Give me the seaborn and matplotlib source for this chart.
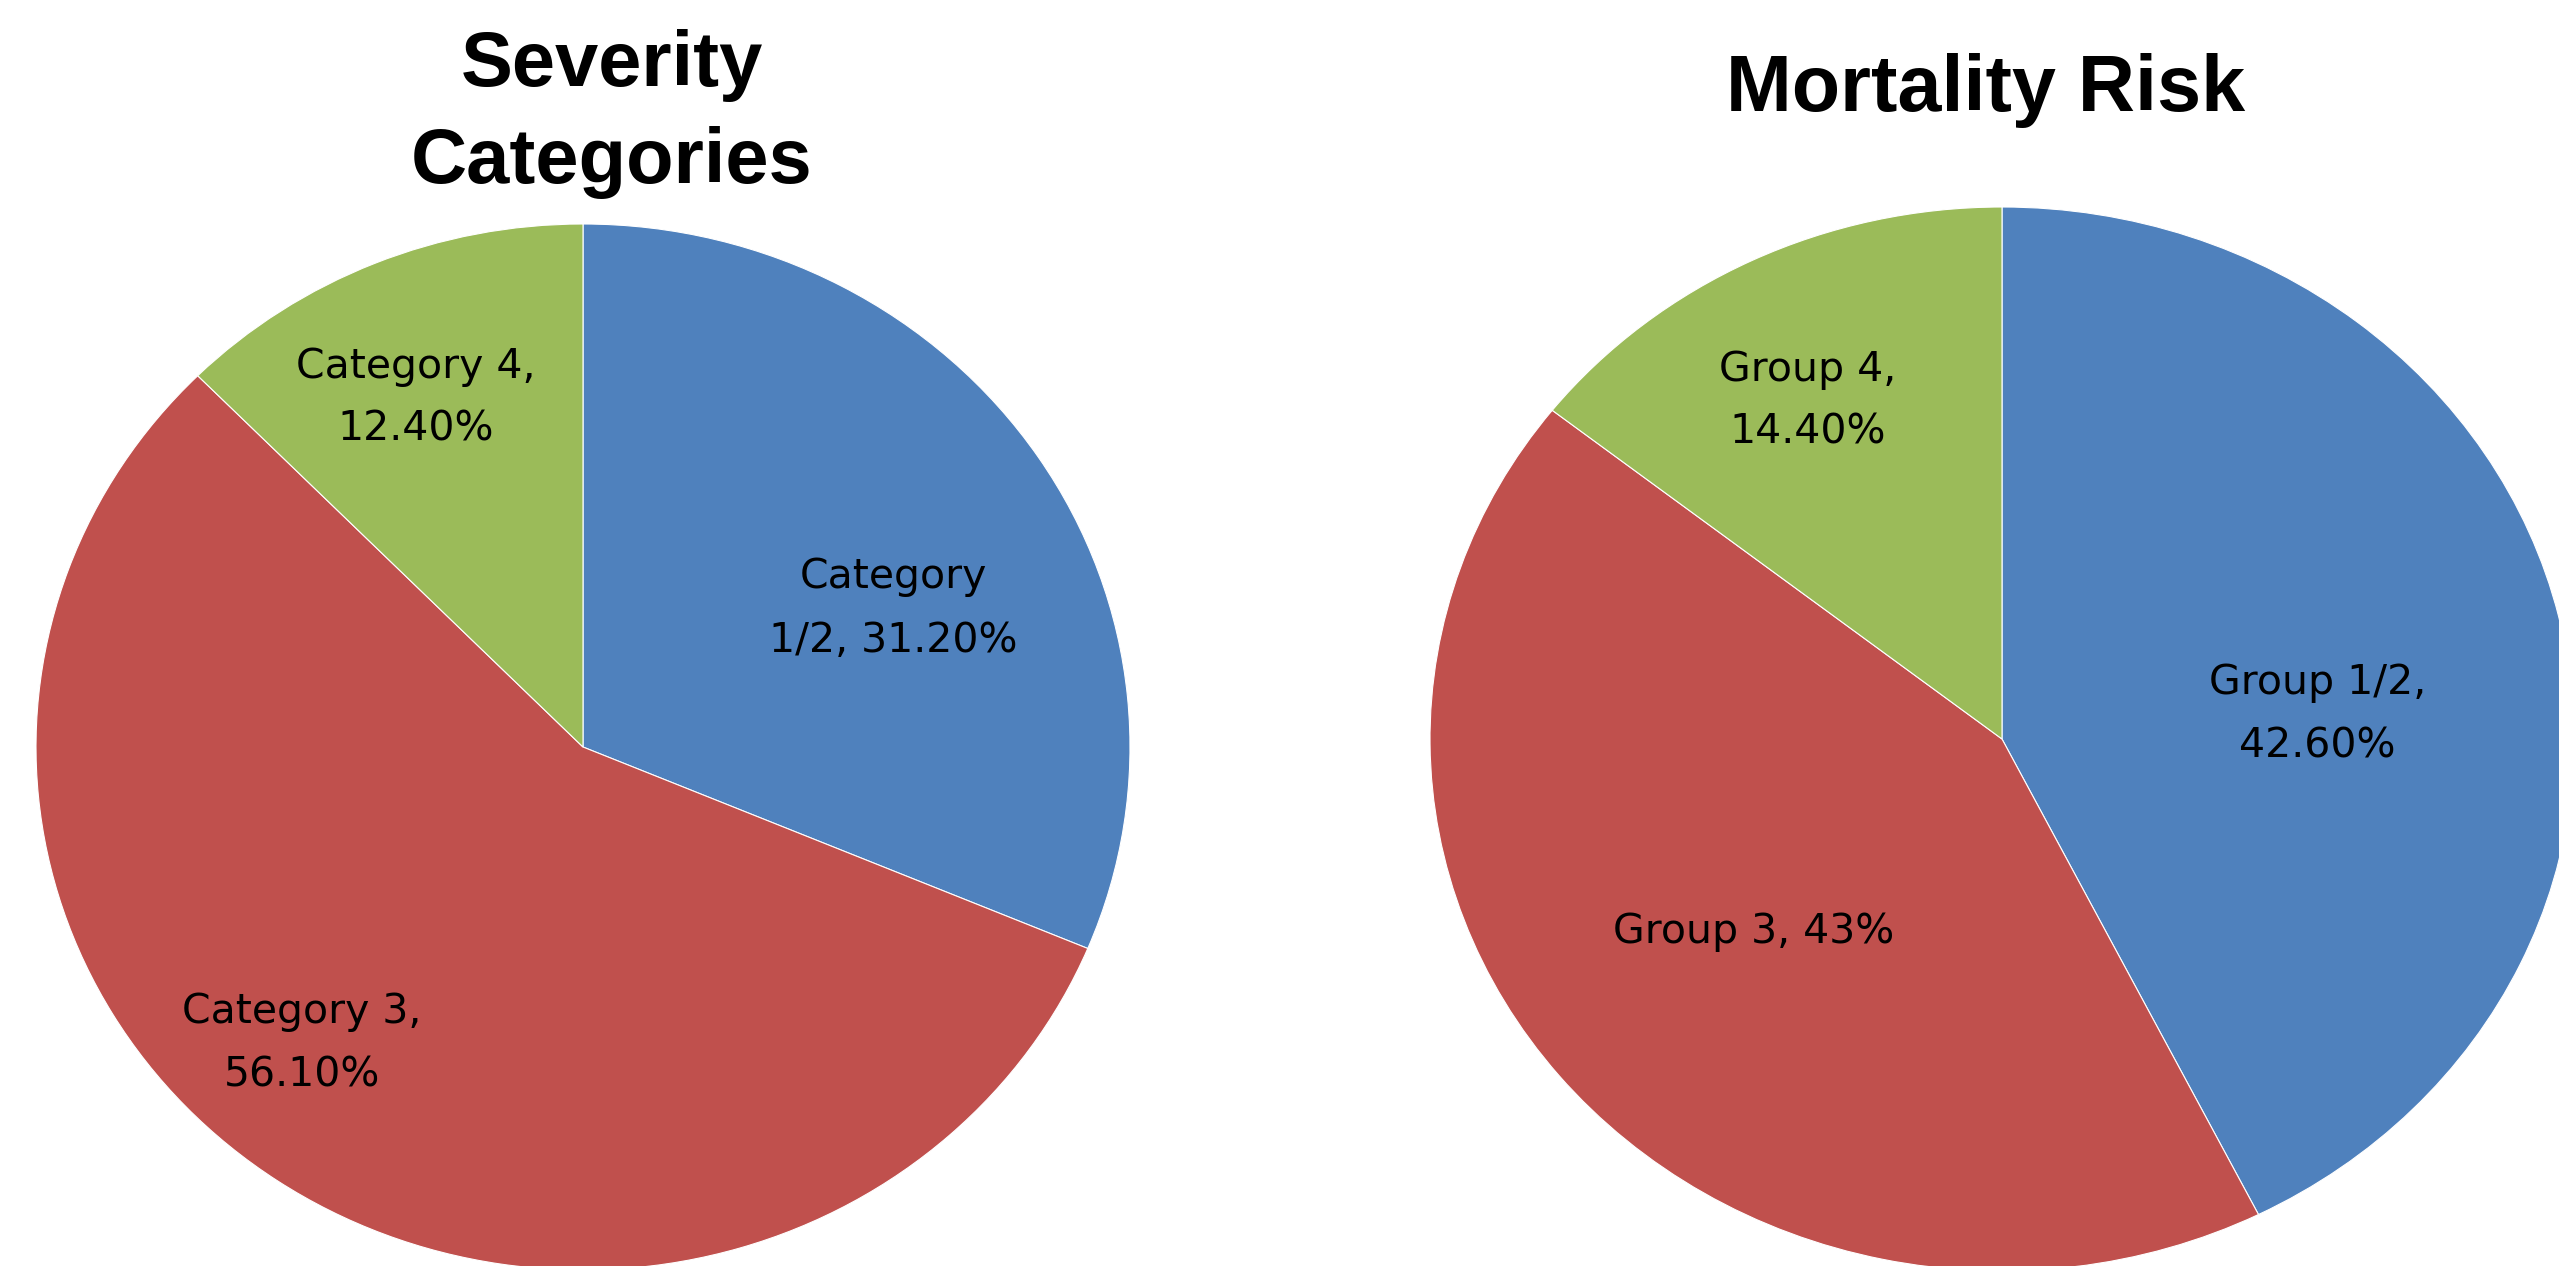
import matplotlib
matplotlib.use("Agg")
from matplotlib import pyplot as plt
import seaborn as sns

# data
severity_names = ["Category\n1/2", "Category 3,\n", "Category 4,\n"]
severity_values = [31.2, 56.1, 12.4]
severity_text = ["31.20%", "56.10%", "12.40%"]

mortality_names = ["Group 1/2,\n", "Group 3, ", "Group 4,\n"]
mortality_values = [42.6, 43.0, 14.4]
mortality_text = ["42.60%", "43%", "14.40%"]

slice_colors = sns.color_palette(["#4F81BD", "#C0504D", "#9BBB59"])

sns.set_theme(style="white")
plt.rcParams['font.family'] = ['DejaVu Sans']

W, H = 2559, 1266
fig = plt.figure(figsize=(W / 100, H / 100), dpi=100)


def pie_axes(cx, cy, rx, ry):
    # axes box in figure fraction so the pie fills it (elliptical like the source)
    return fig.add_axes([(cx - rx) / W, (H - cy - ry) / H, 2 * rx / W, 2 * ry / H])


def draw_pie(ax, values, names, texts, label_pos):
    ax.pie(values, colors=slice_colors, startangle=90, counterclock=False,
           wedgeprops=dict(edgecolor='white', linewidth=0.8))
    ax.set_aspect('auto')
    ax.set_xlim(-1, 1)
    ax.set_ylim(-1, 1)
    ax.axis('off')
    for name, txt, (x, y) in zip(names, texts, label_pos):
        if name.endswith("\n1/2"):
            label = name + ", " + txt
        else:
            label = name + txt
        ax.text(x, y, label, ha='center', va='center', fontsize=29.5,
                color='black', linespacing=1.75)


ax1 = pie_axes(583, 747, 547, 523)
draw_pie(ax1, severity_values, severity_names, severity_text,
         [(0.567, 0.264), (-0.514, -0.568), (-0.305, 0.667)])

ax2 = pie_axes(2002, 739, 572, 532)
draw_pie(ax2, mortality_values, mortality_names, mortality_text,
         [(0.551, 0.045), (-0.434, -0.363), (-0.339, 0.635)])

fig.text(612 / W, 1 - 114 / H, "Severity\nCategories", ha='center', va='center',
         fontsize=56, fontweight='bold', family='Liberation Sans', linespacing=1.42,
         color='black')
fig.text(1986 / W, 1 - 90 / H, "Mortality Risk", ha='center', va='center',
         fontsize=57, fontweight='bold', family='Liberation Sans', color='black')

fig.savefig("out.png", dpi=100, facecolor='white')
